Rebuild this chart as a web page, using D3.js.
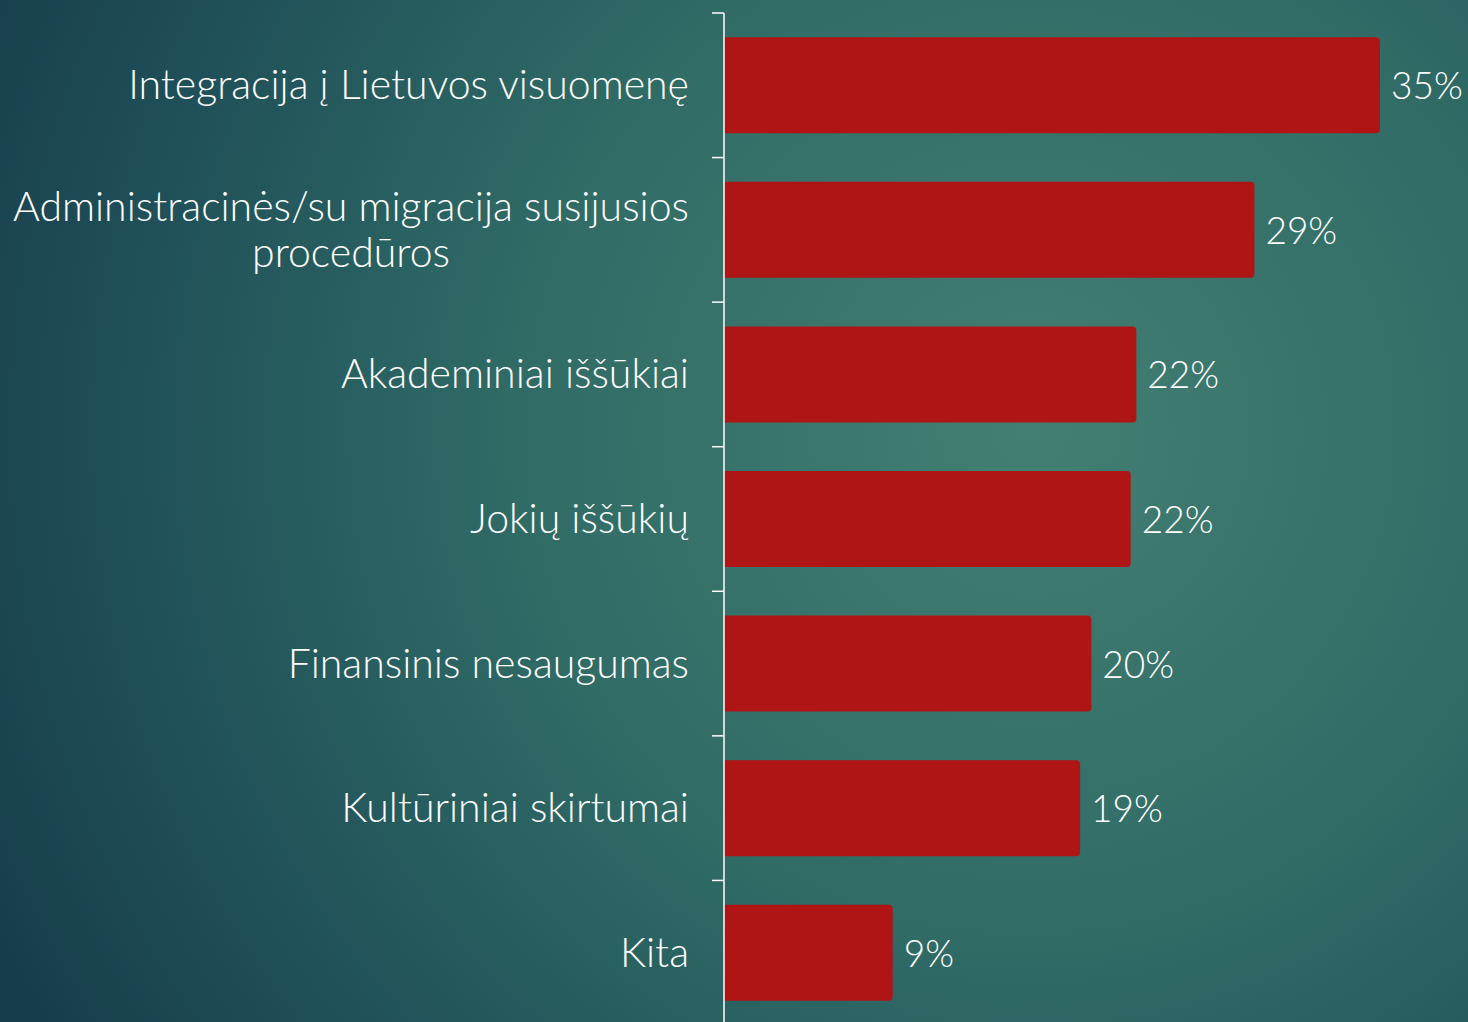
<!DOCTYPE html>
<html>
<head>
<meta charset="utf-8">
<script src="https://cdn.jsdelivr.net/npm/d3@7"></script>
<style>
  html, body { margin: 0; padding: 0; overflow: hidden; }
  body { width: 1468px; height: 1022px; }
  text { font-family: "Century Gothic", "Lato", "Open Sans", sans-serif; font-weight: 300; fill: #ffffff; }
</style>
</head>
<body>
<div id="barChart"></div>
<script>
// data
const categories = [
    "Integracija į Lietuvos visuomenę",
    "Administracinės/su migracija susijusios procedūros",
    "Akademiniai iššūkiai",
    "Jokių iššūkių",
    "Finansinis nesaugumas",
    "Kultūriniai skirtumai",
    "Kita"
];
const values = [35, 28.3, 22.0, 21.7, 19.6, 19.0, 9.0];
const valueLabels = ["35%", "29%", "22%", "22%", "20%", "19%", "9%"];
// long label is split on two lines
const labelLines = [
    ["Integracija į Lietuvos visuomenę"],
    ["Administracinės/su migracija susijusios", "procedūros"],
    ["Akademiniai iššūkiai"],
    ["Jokių iššūkių"],
    ["Finansinis nesaugumas"],
    ["Kultūriniai skirtumai"],
    ["Kita"]
];

function createBarChart() {
    const width = 1468, height = 1022;
    const axisX = 724;

    const svg = d3.select("#barChart")
        .append("svg")
        .attr("width", width)
        .attr("height", height);

    // background
    const defs = svg.append("defs");
    const grad = defs.append("radialGradient")
        .attr("id", "bg")
        .attr("gradientUnits", "userSpaceOnUse")
        .attr("cx", 1030).attr("cy", 430).attr("r", 1150);
    grad.append("stop").attr("offset", 0).attr("stop-color", "#437f72");
    grad.append("stop").attr("offset", 0.45).attr("stop-color", "#306b66");
    grad.append("stop").attr("offset", 0.8).attr("stop-color", "#1f4f58");
    grad.append("stop").attr("offset", 1).attr("stop-color", "#173d4c");
    svg.append("rect")
        .attr("width", width).attr("height", height)
        .attr("fill", "url(#bg)");

    // scales
    const x = d3.scaleLinear()
        .domain([0, 35])
        .range([axisX, 1380]);

    const y = d3.scaleBand()
        .domain(categories)
        .range([13, 1025])
        .paddingInner(0.336)
        .paddingOuter(0.168);

    const step = y.step();
    const r = 4;

    // bars: square on the axis side, rounded on the value side
    svg.selectAll("path.bar")
        .data(values)
        .join("path")
        .attr("class", "bar")
        .attr("d", (d, i) => {
            const x0 = x(0), x1 = x(d);
            const y0 = y(categories[i]), y1 = y0 + y.bandwidth();
            return `M${x0},${y0}H${x1 - r}Q${x1},${y0} ${x1},${y0 + r}V${y1 - r}Q${x1},${y1} ${x1 - r},${y1}H${x0}Z`;
        })
        .attr("fill", "#b01515");

    // axis line + ticks on band boundaries
    svg.append("line")
        .attr("x1", axisX).attr("x2", axisX)
        .attr("y1", y.range()[0]).attr("y2", height + 5)
        .attr("stroke", "#ffffff")
        .attr("stroke-width", 1.5);

    svg.selectAll("line.tick")
        .data(d3.range(categories.length + 1))
        .join("line")
        .attr("class", "tick")
        .attr("x1", axisX - 12).attr("x2", axisX)
        .attr("y1", i => y.range()[0] + i * step)
        .attr("y2", i => y.range()[0] + i * step)
        .attr("stroke", "#ffffff")
        .attr("stroke-width", 1.5);

    // category labels
    const labelRight = axisX - 35;
    const lineH = 46;
    categories.forEach((c, i) => {
        const lines = labelLines[i];
        const cy = y(c) + y.bandwidth() / 2;
        const g = svg.append("g");
        const texts = lines.map((t, j) => g.append("text")
            .attr("y", cy + 14 + (j - (lines.length - 1) / 2) * lineH)
            .attr("font-size", 41)
            .text(t));
        if (lines.length === 1) {
            texts[0].attr("x", labelRight).attr("text-anchor", "end");
        } else {
            const maxW = d3.max(texts, t => t.node().getComputedTextLength());
            texts.forEach(t => t.attr("x", labelRight - maxW / 2).attr("text-anchor", "middle"));
        }
    });

    // value labels
    svg.selectAll("text.value")
        .data(values)
        .join("text")
        .attr("class", "value")
        .attr("x", d => x(d) + 11)
        .attr("y", (d, i) => y(categories[i]) + y.bandwidth() / 2 + 14)
        .attr("font-size", 37)
        .text((d, i) => valueLabels[i]);
}

createBarChart();
</script>
</body>
</html>
